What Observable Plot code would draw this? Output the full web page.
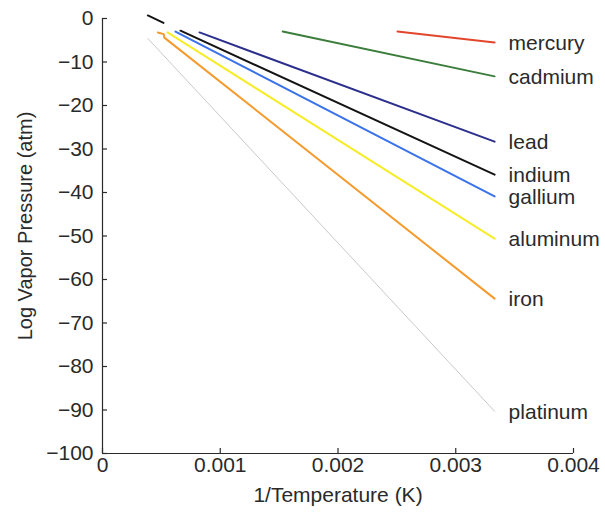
<!DOCTYPE html>
<html>
<head>
<meta charset="utf-8">
<script src="https://cdn.jsdelivr.net/npm/d3@7"></script>
<script src="https://cdn.jsdelivr.net/npm/@observablehq/plot@0.6"></script>
<style>
  html, body { margin: 0; padding: 0; background: #fff; }
  #chart { width: 605px; height: 519px; }
</style>
</head>
<body>
<div id="chart"></div>
<script>
// Metals and their colours
const metals = ["mercury", "cadmium", "lead", "indium", "gallium", "aluminum", "iron", "platinum"];
const colors = ["#e2462c", "#3b7d3b", "#2c2f8c", "#141414", "#3a72ea", "#f7ec2a", "#f59a2c", "#c9c9c9"];
const widths = [2, 2, 2, 2, 2, 2, 2, 1];

// Line points: 1/T (1/K) and log vapor pressure (atm)
const invT = {
  mercury:  [0.002505, 0.00333],
  cadmium:  [0.00153, 0.00333],
  lead:     [0.000824, 0.00333],
  indium:   [0.000662, 0.00333],
  gallium:  [0.00062, 0.00333],
  aluminum: [0.000552, 0.00333],
  iron:     [0.000470, 0.000520, 0.000525, 0.00333],
  platinum: [0.000385, 0.00333]
};
const logP = {
  mercury:  [-3.0, -5.5],
  cadmium:  [-3.0, -13.3],
  lead:     [-3.2, -28.3],
  indium:   [-2.8, -35.9],
  gallium:  [-3.0, -40.9],
  aluminum: [-3.2, -50.6],
  iron:     [-3.2, -3.6, -4.4, -64.4],
  platinum: [-4.6, -90.3]
};
// Short high-temperature black segment at top left
const extraInvT = [0.000385, 0.000518];
const extraLogP = [0.7, -1.0];

const xTicks = [0, 0.001, 0.002, 0.003, 0.004];
const xTickLabels = ["0", "0.001", "0.002", "0.003", "0.004"];
const yTicks = [0, -10, -20, -30, -40, -50, -60, -70, -80, -90, -100];
const yTickLabels = ["0", "\u221210", "\u221220", "\u221230", "\u221240", "\u221250", "\u221260", "\u221270", "\u221280", "\u221290", "\u2212100"];

const rows = [];
metals.forEach((m, i) => {
  invT[m].forEach((x, j) => rows.push({metal: m, x, y: logP[m][j]}));
});
const extra = extraInvT.map((x, j) => ({x, y: extraLogP[j]}));
const ends = metals.map((m, i) => {
  const n = invT[m].length - 1;
  return {metal: m, x: invT[m][n], y: logP[m][n]};
});

const font = "'Liberation Sans', Arial, Helvetica, sans-serif";
const ink = "#2a2a2a";

const chart = Plot.plot({
  width: 605,
  height: 519,
  marginLeft: 102,
  marginRight: 32,
  marginTop: 18,
  marginBottom: 66,
  style: {fontFamily: font, color: ink, background: "#fff"},
  x: {domain: [0, 0.004], axis: null},
  y: {domain: [-100, 0], axis: null},
  marks: [
    // axis spines
    Plot.ruleY([-100], {stroke: ink, strokeWidth: 1.2}),
    Plot.ruleX([0], {stroke: ink, strokeWidth: 1.2}),
    // inward ticks
    Plot.ruleX(xTicks, {x: d => d, y1: -100, y2: -100, insetTop: -5, stroke: ink, strokeWidth: 1.2}),
    Plot.ruleY(yTicks, {y: d => d, x1: 0, x2: 0, insetRight: -5, stroke: ink, strokeWidth: 1.2}),
    // tick labels
    Plot.text(xTicks, {x: d => d, frameAnchor: "bottom", lineAnchor: "top", dy: 4, text: (d, i) => xTickLabels[i], fontSize: 21, fill: ink}),
    Plot.text(yTicks, {y: d => d, frameAnchor: "left", dx: -9, textAnchor: "end", text: (d, i) => yTickLabels[i], fontSize: 21, fill: ink}),
    // axis titles
    Plot.text(["1/Temperature (K)"], {frameAnchor: "bottom", lineAnchor: "top", textAnchor: "middle", dy: 34, fontSize: 21, fill: ink, text: d => d}),
    Plot.text(["Log Vapor Pressure (atm)"], {frameAnchor: "left", textAnchor: "middle", dx: -77, dy: -10, rotate: -90, fontSize: 20, fill: ink, text: d => d}),
    // lines
    ...metals.map((m, i) => Plot.line(rows.filter(r => r.metal === m), {x: "x", y: "y", stroke: colors[i], strokeWidth: widths[i]})),
    Plot.line(extra, {x: "x", y: "y", stroke: "#141414", strokeWidth: 2}),
    // labels
    Plot.text(ends, {x: "x", y: "y", text: "metal", dx: 14, dy: 1, textAnchor: "start", fontSize: 21, fill: ink})
  ]
});
document.getElementById("chart").appendChild(chart);
</script>
</body>
</html>
